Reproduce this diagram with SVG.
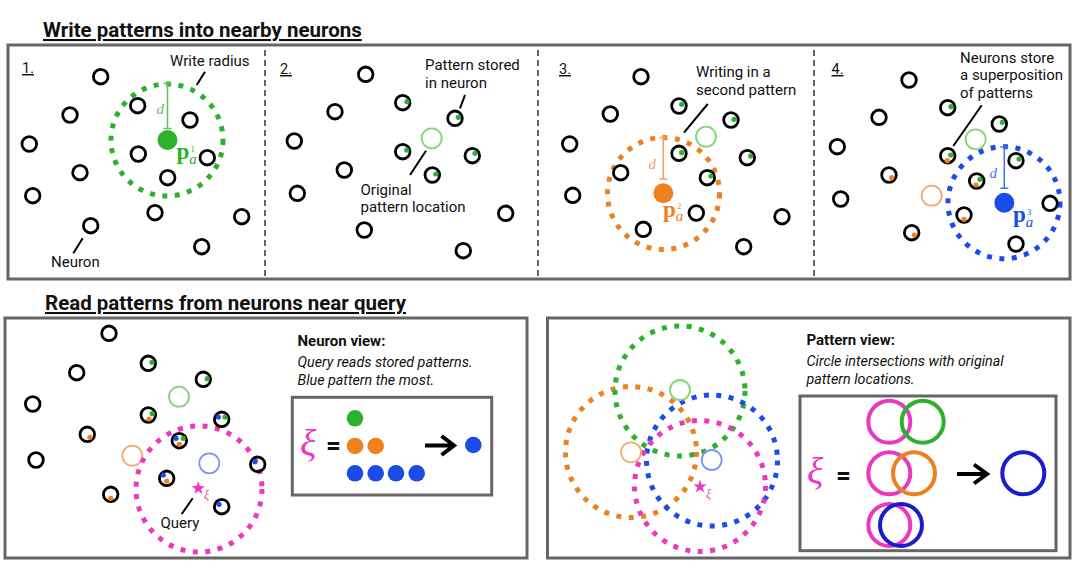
<svg xmlns="http://www.w3.org/2000/svg" width="1084" height="568" viewBox="0 0 1084 568">
<style>
text{font-family:Roboto,"Liberation Sans",sans-serif;fill:#111}
.title{font-size:20.5px;font-weight:bold;text-decoration:underline}
.lbl{font-size:15px}
.num{font-size:14.5px;text-decoration:underline}
.box{fill:none;stroke:#666;stroke-width:3}
.div{stroke:#666;stroke-width:2;stroke-dasharray:6 4}
.n{fill:none;stroke:#000;stroke-width:2.8}
.lead{stroke:#000;stroke-width:2}
.g{fill:#2db12d}.o{fill:#ef8020}.b{fill:#1a4de8}
.dg{fill:none;stroke:#2db12d;stroke-width:5;stroke-dasharray:5 7.5}
.do{fill:none;stroke:#ef8020;stroke-width:5;stroke-dasharray:5 7.5}
.db{fill:none;stroke:#1a4de8;stroke-width:5;stroke-dasharray:5 7.5}
.dm{fill:none;stroke:#ec38be;stroke-width:5;stroke-dasharray:5 7.5}
.lg{fill:none;stroke:#85d37a;stroke-width:1.8}
.lo{fill:none;stroke:#f5aa70;stroke-width:1.8}
.lb{fill:none;stroke:#7d95ef;stroke-width:1.8}
.math{font-family:"Liberation Serif","DejaVu Serif",serif}
.bold{font-size:15px;font-weight:bold}
.ital{font-size:14.3px;font-style:italic}
.ring{fill:none;stroke-width:4}
.arrow{fill:none;stroke:#000;stroke-width:4}
</style>
<defs>
<polygon id="star" points="0,-7 1.65,-2.27 6.66,-2.16 2.66,0.87 4.11,5.66 0,2.8 -4.11,5.66 -2.66,0.87 -6.66,-2.16 -1.65,-2.27" fill="#ec38be"/>
</defs>

<!-- titles -->
<text class="title" x="43" y="37">Write patterns into nearby neurons</text>
<text class="title" x="45" y="310">Read patterns from neurons near query</text>

<!-- top frame -->
<rect class="box" x="8" y="45" width="1062" height="234"/>
<line class="div" x1="265" y1="50" x2="265" y2="276"/>
<line class="div" x1="538" y1="50" x2="538" y2="276"/>
<line class="div" x1="814" y1="50" x2="814" y2="276"/>

<!-- PANEL 1 -->
<g id="panel1">
<text class="num" x="22" y="73">1.</text>
<circle id="p1-write-radius" class="dg" cx="167" cy="140" r="56"/>
<g id="p1-pattern">
<circle class="g" cx="167.5" cy="140" r="10"/>
<path d="M167.5 83.5V128.5M163.5 83.5H171.5M163.5 128.5H171.5" stroke="#5cc45c" stroke-width="1.5" fill="none"/>
<text class="math" x="164" y="114" font-size="15" font-style="italic" text-anchor="end" style="fill:#5cc45c">d</text>
<text class="math" x="176.5" y="159" font-size="23" style="fill:#2db12d"><tspan font-weight="bold">p</tspan><tspan font-size="15" font-style="italic" dy="4.5">a</tspan><tspan font-size="8" dx="-6" dy="-11.5">1</tspan></text>
</g>
<g id="p1-neurons">
<circle class="n" cx="100.7" cy="76.7" r="7.3"/>
<circle class="n" cx="70" cy="115" r="7.3"/>
<circle class="n" cx="29.3" cy="144" r="7.3"/>
<circle class="n" cx="80" cy="172.7" r="7.3"/>
<circle class="n" cx="32.7" cy="195.7" r="7.3"/>
<circle class="n" cx="90.7" cy="225.7" r="7.3"/>
<circle class="n" cx="137.7" cy="105.7" r="7.3"/>
<circle class="n" cx="190" cy="120" r="7.3"/>
<circle class="n" cx="138.3" cy="154" r="7.3"/>
<circle class="n" cx="207.3" cy="157.7" r="7.3"/>
<circle class="n" cx="167.7" cy="177.7" r="7.3"/>
<circle class="n" cx="155" cy="212.7" r="7.3"/>
<circle class="n" cx="241.7" cy="216.7" r="7.3"/>
<circle class="n" cx="201.7" cy="246.7" r="7.3"/>
</g>
<text class="lbl" x="170" y="66">Write radius</text>
<text class="lbl" x="51" y="267">Neuron</text>
</g>

<!-- PANEL 2 -->
<g id="panel2">
<text class="num" x="280" y="74">2.</text>
<circle id="p2-orig" class="lg" cx="431.7" cy="138.3" r="10"/>
<g id="p2-neurons">
<circle class="n" cx="365.7" cy="74.3" r="7.3"/>
<circle class="n" cx="335" cy="111.7" r="7.3"/>
<circle class="n" cx="294.3" cy="141" r="7.3"/>
<circle class="n" cx="344.3" cy="170" r="7.3"/>
<circle class="n" cx="297.3" cy="193.3" r="7.3"/>
<circle class="n" cx="364.3" cy="230" r="7.3"/>
<circle class="n" cx="402.7" cy="102.7" r="7.3"/><circle class="g" cx="407" cy="101.7" r="2.6"/>
<circle class="n" cx="455" cy="118.3" r="7.3"/><circle class="g" cx="458.3" cy="117.3" r="2.6"/>
<circle class="n" cx="402.7" cy="151.7" r="7.3"/><circle class="g" cx="406.7" cy="150" r="2.6"/>
<circle class="n" cx="472.3" cy="155.7" r="7.3"/><circle class="g" cx="475" cy="153.3" r="2.6"/>
<circle class="n" cx="432.3" cy="175" r="7.3"/><circle class="g" cx="436" cy="174" r="2.6"/>
<circle class="n" cx="505.7" cy="213.3" r="7.3"/>
<circle class="n" cx="463.3" cy="250.7" r="7.3"/>
</g>
<text class="lbl" x="425" y="70">Pattern stored</text>
<text class="lbl" x="425" y="88">in neuron</text>
<text class="lbl" x="360.5" y="195">Original</text>
<text class="lbl" x="360.5" y="212">pattern location</text>
</g>

<!-- PANEL 3 -->
<g id="panel3">
<text class="num" x="559" y="74">3.</text>
<circle id="p3-orig" class="lg" cx="706" cy="136.7" r="10"/>
<circle id="p3-write-radius" class="do" cx="663.5" cy="193.5" r="56"/>
<g id="p3-pattern">
<circle class="o" cx="663.3" cy="193.3" r="10"/>
<path d="M663.3 137.5V179M659.3 137.5H667.3M659.3 179H667.3" stroke="#f3a060" stroke-width="1.5" fill="none"/>
<text class="math" x="656" y="169" font-size="15" font-style="italic" text-anchor="end" style="fill:#f3a060">d</text>
<text class="math" x="663" y="216.5" font-size="23" style="fill:#ef8020"><tspan font-weight="bold">p</tspan><tspan font-size="15" font-style="italic" dy="4">a</tspan><tspan font-size="8" dx="-6" dy="-12">2</tspan></text>
</g>
<g id="p3-neurons">
<circle class="n" cx="641" cy="76.7" r="7.3"/>
<circle class="n" cx="610.3" cy="114" r="7.3"/>
<circle class="n" cx="569.7" cy="144" r="7.3"/>
<circle class="n" cx="620.7" cy="172.7" r="7.3"/>
<circle class="n" cx="572.7" cy="195.3" r="7.3"/>
<circle class="n" cx="643.3" cy="229.3" r="7.3"/>
<circle class="n" cx="679" cy="106" r="7.3"/><circle class="g" cx="681.7" cy="104.3" r="2.6"/>
<circle class="n" cx="731" cy="120" r="7.3"/><circle class="g" cx="734" cy="119.3" r="2.6"/>
<circle class="n" cx="679" cy="153.3" r="7.3"/><circle class="g" cx="681.7" cy="152.7" r="2.6"/>
<circle class="n" cx="747.3" cy="157.7" r="7.3"/><circle class="g" cx="750.7" cy="156" r="2.6"/>
<circle class="n" cx="707.3" cy="177.7" r="7.3"/><circle class="g" cx="711" cy="176" r="2.6"/>
<circle class="n" cx="696.3" cy="213" r="7.3"/>
<circle class="n" cx="782" cy="216.7" r="7.3"/>
<circle class="n" cx="743.7" cy="246.7" r="7.3"/>
</g>
<text class="lbl" x="696" y="77">Writing in a</text>
<text class="lbl" x="696" y="95">second pattern</text>
</g>

<!-- PANEL 4 -->
<g id="panel4">
<text class="num" x="831.5" y="74">4.</text>
<circle id="p4-orig1" class="lg" cx="975.7" cy="139.3" r="10"/>
<circle id="p4-orig2" class="lo" cx="931.7" cy="195.7" r="10"/>
<circle id="p4-write-radius" class="db" cx="1004" cy="202.7" r="56"/>
<g id="p4-pattern">
<circle class="b" cx="1004.3" cy="202.7" r="10"/>
<path d="M1004.3 147V188.3M1000.3 147H1008.3M1000.3 188.3H1008.3" stroke="#4a70ec" stroke-width="1.5" fill="none"/>
<text class="math" x="997" y="178" font-size="15" font-style="italic" text-anchor="end" style="fill:#4a70ec">d</text>
<text class="math" x="1013" y="222" font-size="23" style="fill:#1a4de8"><tspan font-weight="bold">p</tspan><tspan font-size="15" font-style="italic" dy="5">a</tspan><tspan font-size="8" dx="-6" dy="-12">3</tspan></text>
</g>
<g id="p4-neurons">
<circle class="n" cx="909" cy="80" r="7.3"/>
<circle class="n" cx="879" cy="117.3" r="7.3"/>
<circle class="n" cx="837.3" cy="146.7" r="7.3"/>
<circle class="n" cx="889" cy="175" r="7.3"/><circle class="o" cx="891.7" cy="177.7" r="2.6"/>
<circle class="n" cx="840.7" cy="199" r="7.3"/>
<circle class="n" cx="911.7" cy="232.7" r="7.3"/><circle class="o" cx="914.3" cy="235" r="2.6"/>
<circle class="n" cx="947.7" cy="107.7" r="7.3"/><circle class="g" cx="951" cy="106.7" r="2.6"/>
<circle class="n" cx="999.3" cy="124" r="7.3"/><circle class="g" cx="1002.3" cy="122.3" r="2.6"/>
<circle class="n" cx="947.7" cy="155.7" r="7.3"/><circle class="g" cx="950.7" cy="155" r="2.6"/><circle class="o" cx="947.3" cy="160.7" r="2.6"/>
<circle class="n" cx="1016" cy="160.7" r="7.3"/><circle class="g" cx="1019" cy="159" r="2.6"/>
<circle class="n" cx="976.7" cy="181" r="7.3"/><circle class="g" cx="980" cy="179.3" r="2.6"/><circle class="o" cx="976" cy="185" r="2.6"/>
<circle class="n" cx="964" cy="215" r="7.3"/><circle class="o" cx="964" cy="219.3" r="2.6"/>
<circle class="n" cx="1050" cy="203.3" r="7.3"/>
<circle class="n" cx="1016" cy="244" r="7.3"/>
</g>
<text class="lbl" x="960" y="63">Neurons store</text>
<text class="lbl" x="960" y="80">a superposition</text>
<text class="lbl" x="960" y="98">of patterns</text>
</g>

<!-- BOTTOM LEFT -->
<rect class="box" x="5" y="318" width="522" height="240"/>
<g id="neuron-view-scene">
<circle class="lg" cx="179" cy="396.7" r="10"/>
<circle class="lo" cx="132.3" cy="455.7" r="10"/>
<circle class="lb" cx="209.3" cy="463.3" r="10"/>
<circle id="query-radius" class="dm" cx="199" cy="489" r="63"/>
<g id="bl-neurons">
<circle class="n" cx="109" cy="333.3" r="7.3"/>
<circle class="n" cx="76.7" cy="372.7" r="7.3"/>
<circle class="n" cx="32.7" cy="404" r="7.3"/>
<circle class="n" cx="87.3" cy="434.3" r="7.3"/><circle class="o" cx="90" cy="437.3" r="2.6"/>
<circle class="n" cx="36" cy="460" r="7.3"/>
<circle class="n" cx="110.7" cy="494.3" r="7.3"/><circle class="o" cx="110.7" cy="498.3" r="2.6"/>
<circle class="n" cx="148.3" cy="363.3" r="7.3"/><circle class="g" cx="152" cy="362.3" r="2.6"/>
<circle class="n" cx="203.3" cy="379.3" r="7.3"/><circle class="g" cx="207.3" cy="378.7" r="2.6"/>
<circle class="n" cx="148.3" cy="415" r="7.3"/><circle class="g" cx="152.3" cy="413.7" r="2.6"/><circle class="o" cx="149" cy="419" r="2.6"/>
<circle class="n" cx="221.7" cy="419.3" r="7.3"/><circle class="b" cx="218.3" cy="417" r="2.6"/><circle class="g" cx="225" cy="417" r="2.6"/>
<circle class="n" cx="179.3" cy="440.7" r="7.3"/><circle class="b" cx="176" cy="438.3" r="2.6"/><circle class="g" cx="183.3" cy="438.3" r="2.6"/><circle class="o" cx="179.3" cy="444.3" r="2.6"/>
<circle class="n" cx="257.7" cy="464.3" r="7.3"/><circle class="b" cx="255" cy="461.7" r="2.6"/>
<circle class="n" cx="166.7" cy="478.3" r="7.3"/><circle class="b" cx="163.3" cy="475" r="2.6"/><circle class="o" cx="166.7" cy="481" r="2.6"/>
<circle class="n" cx="221.7" cy="506.7" r="7.3"/><circle class="b" cx="219" cy="504.3" r="2.6"/>
</g>
<g id="bl-query">
<use href="#star" x="198.3" y="488.3"/>
<text class="math" x="204" y="499" font-size="12" font-style="italic" style="fill:#ec38be">ξ</text>
</g>
<text class="lbl" x="160.5" y="527.5">Query</text>
</g>
<g id="neuron-view-legend">
<text class="bold" x="297.5" y="346">Neuron view:</text>
<text class="ital" x="297.5" y="367">Query reads stored patterns.</text>
<text class="ital" x="297.5" y="385">Blue pattern the most.</text>
<rect class="box" x="292.3" y="397.3" width="199.4" height="97.7"/>
<text class="math" x="300" y="456" font-size="38" font-style="italic" style="fill:#ec38be">ξ</text>
<text x="326" y="454" font-size="26" font-weight="bold">=</text>
<circle class="g" cx="355" cy="418.3" r="8.3"/>
<circle class="o" cx="355" cy="446" r="8.3"/><circle class="o" cx="375.7" cy="446" r="8.3"/>
<circle class="b" cx="355" cy="473.3" r="8.3"/><circle class="b" cx="375.7" cy="473.3" r="8.3"/><circle class="b" cx="396" cy="473.3" r="8.3"/><circle class="b" cx="416.7" cy="473.3" r="8.3"/>
<path class="arrow" d="M425 445.5H454M441.5 436L454 445.5L441.5 455"/>
<circle class="b" cx="473.3" cy="445" r="8.3"/>
</g>

<!-- BOTTOM RIGHT -->
<rect class="box" x="547.5" y="318" width="522.5" height="240"/>
<g id="pattern-view-scene">
<circle class="do" cx="631" cy="452" r="65.5"/>
<circle class="dg" cx="680" cy="391" r="65"/>
<circle class="db" cx="712" cy="460.5" r="65.5"/>
<circle class="dm" cx="700" cy="486" r="65.5"/>
<circle class="lg" cx="680" cy="390" r="10"/>
<circle class="lo" cx="631" cy="452.3" r="10"/>
<circle class="lb" cx="711.7" cy="460" r="10"/>
<use href="#star" x="700" y="486.7"/>
<text class="math" x="706" y="498" font-size="12" font-style="italic" style="fill:#ec38be">ξ</text>
</g>
<g id="pattern-view-legend">
<text class="bold" x="806.5" y="345">Pattern view:</text>
<text class="ital" x="806.5" y="366">Circle intersections with original</text>
<text class="ital" x="806.5" y="384">pattern locations.</text>
<rect class="box" x="800" y="396" width="256" height="154.7"/>
<text class="math" x="807" y="484" font-size="38" font-style="italic" style="fill:#ec38be">ξ</text>
<text x="836" y="484" font-size="26" font-weight="bold">=</text>
<circle class="ring" stroke="#ec38be" cx="889.3" cy="421.7" r="21"/>
<circle class="ring" stroke="#2db12d" cx="922.7" cy="421.7" r="21"/>
<circle class="ring" stroke="#ec38be" cx="889.3" cy="473.3" r="21"/>
<circle class="ring" stroke="#ef8020" cx="914" cy="473.3" r="21"/>
<circle class="ring" stroke="#ec38be" cx="889.3" cy="525" r="21"/>
<circle class="ring" stroke="#1c1ccc" cx="901" cy="525" r="21"/>
<path class="arrow" d="M957 474H987M974 464.5L987 474L974 483.5"/>
<circle class="ring" stroke="#1c1ccc" cx="1023.3" cy="473.3" r="21"/>
</g>

<!-- connectors (leader lines) -->
<g id="connectors">
<line class="lead" x1="196.7" y1="85" x2="205" y2="71.7"/>
<line class="lead" x1="73.3" y1="253.3" x2="82.7" y2="238.3"/>
<line class="lead" x1="460" y1="108.3" x2="465" y2="95"/>
<line class="lead" x1="410" y1="175" x2="426" y2="150.7"/>
<line class="lead" x1="684" y1="132.7" x2="707.7" y2="104"/>
<line class="lead" x1="953.3" y1="146" x2="981.7" y2="105.3"/>
<line class="lead" x1="181.7" y1="514" x2="192.7" y2="498.3"/>
</g>
</svg>
